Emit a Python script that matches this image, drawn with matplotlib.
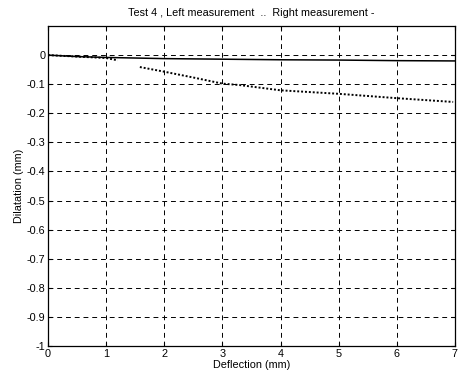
import matplotlib
matplotlib.use("Agg")
import matplotlib.pyplot as plt
import numpy as np

# Right measurement (solid)
right_x = [0, 0.5, 1.0, 1.5, 2.0, 3.0, 4.0, 5.0, 6.0, 7.0]
right_y = [0, -0.005, -0.008, -0.010, -0.012, -0.014, -0.016, -0.017, -0.019, -0.020]

# Left measurement (dotted), gap between the two pieces
left_x = [0, 0.5, 1.0, 1.2, np.nan, 1.58, 2.0, 2.5, 3.0, 3.3, 4.0, 5.0, 6.0, 6.97]
left_y = [0, -0.005, -0.010, -0.018, np.nan, -0.041, -0.057, -0.077, -0.098, -0.103, -0.121, -0.133, -0.148, -0.161]

xticks = [0, 1, 2, 3, 4, 5, 6, 7]
yticks = [0, -0.1, -0.2, -0.3, -0.4, -0.5, -0.6, -0.7, -0.8, -0.9, -1]
ytick_labels = ["0", "-0.1", "-0.2", "-0.3", "-0.4", "-0.5", "-0.6", "-0.7", "-0.8", "-0.9", "-1"]

plt.rcParams["font.family"] = ["Liberation Sans", "DejaVu Sans"]
plt.rcParams["font.size"] = 7.8

fig = plt.figure(figsize=(4.68, 3.8), dpi=100)
ax = fig.add_axes([0.1026, 0.0895, 0.8694, 0.842])

ax.plot(right_x, right_y, color="black", linewidth=1.1)
ax.plot(left_x, left_y, color="black", linestyle=(0, (1, 1)), linewidth=1.4)

ax.set_xlim(0, 7)
ax.set_ylim(-1, 0.1)
ax.set_xticks(xticks)
ax.set_yticks(yticks)
ax.set_yticklabels(ytick_labels)
ax.tick_params(direction="in", length=3, width=0.8, pad=2, top=True, right=True)
ax.grid(True, color="black", linestyle=(0, (5, 4)), linewidth=0.7)

for s in ax.spines.values():
    s.set_linewidth(0.9)

ax.set_title("Test 4 , Left measurement  ..  Right measurement -", fontsize=7.8, pad=7)
ax.set_xlabel("Deflection (mm)", labelpad=1)
ax.set_ylabel("Dilatation (mm)", labelpad=2)

fig.savefig("out.png", dpi=100)
